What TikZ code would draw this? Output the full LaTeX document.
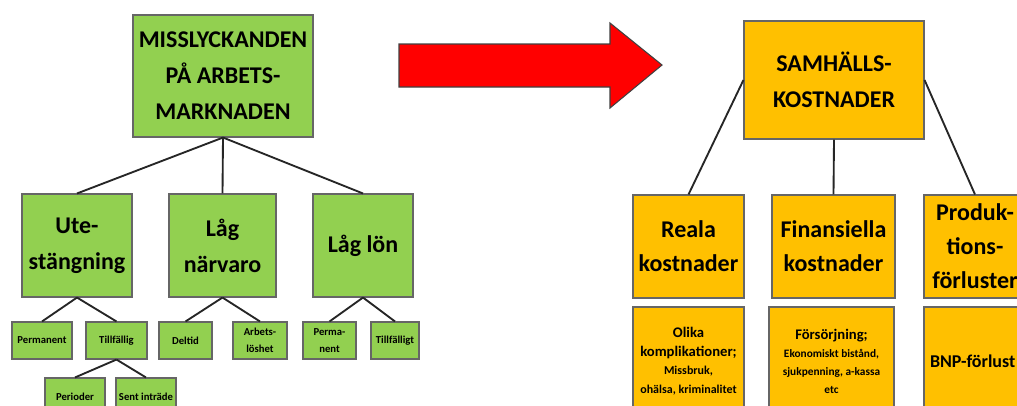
\documentclass[tikz,border=0pt]{standalone}
\usepackage{fontspec}
\setmainfont{Carlito}
\definecolor{lgreen}{HTML}{92D050}
\definecolor{gold}{HTML}{FFC000}

\begin{document}
\begin{tikzpicture}[x=0.75pt,y=-0.75pt,
	box/.style={draw=black!60,line width=0.8pt,inner sep=2pt,align=center},
	gbox/.style={box,fill=lgreen},
	ybox/.style={box,fill=gold},
	big/.style={font=\fontsize{18}{27}\selectfont\bfseries},
	mid/.style={font=\fontsize{18}{25.5}\selectfont\bfseries},
	tiny/.style={font=\fontsize{8}{12.5}\selectfont\bfseries},
	link/.style={draw=black!85,line width=1.4pt}]
	\useasboundingbox (0,0) rectangle (1017,405);
	
	% vänster träd
	\node[gbox,big,minimum width=135pt,minimum height=91.5pt] (miss) at (223,76) {MISSLYCKANDEN\\PÅ ARBETS-\\MARKNADEN};
	
	\node[gbox,big,minimum width=82.5pt,minimum height=77.25pt] (ute) at (77,245.5) {Ute-\\stängning};
	\node[gbox,big,minimum width=80.25pt,minimum height=77.25pt] (narv) at (222.5,245.5) {Låg\\närvaro};
	\node[gbox,big,minimum width=75pt,minimum height=77.25pt] (lon) at (363,245.5) {Låg lön};
	
	\node[gbox,tiny,minimum width=45pt,minimum height=27.75pt] (perm) at (42,340.5) {Permanent};
	\node[gbox,tiny,minimum width=45.75pt,minimum height=27.75pt] (tillf) at (116.5,340.5) {Tillfällig};
	\node[gbox,tiny,minimum width=39.75pt,minimum height=27.75pt] (deltid) at (185.5,340.5) {Deltid};
	\node[gbox,tiny,minimum width=40.5pt,minimum height=27.75pt] (arbl) at (260,340.5) {Arbets-\\löshet};
	\node[gbox,tiny,minimum width=39.75pt,minimum height=27.75pt] (perm2) at (329.5,340.5) {Perma-\\nent};
	\node[gbox,tiny,minimum width=36pt,minimum height=27.75pt] (tillf2) at (395,340.5) {Tillfälligt};
	
	\node[gbox,tiny,minimum width=45pt,minimum height=27.75pt] (period) at (75,396.5) {Perioder};
	\node[gbox,tiny,minimum width=45pt,minimum height=27.75pt] (sent) at (146,396.5) {Sent inträde};
	
	\draw[link] (miss.south)--(ute.north);
	\draw[link] (miss.south)--(narv.north);
	\draw[link] (miss.south)--(lon.north);
	\draw[link] (ute.south)--(perm.north);
	\draw[link] (ute.south)--(tillf.north);
	\draw[link] (narv.south)--(deltid.north);
	\draw[link] (narv.south)--(arbl.north);
	\draw[link] (lon.south)--(perm2.north);
	\draw[link] (lon.south)--(tillf2.north);
	\draw[link] (tillf.south)--(period.north);
	\draw[link] (tillf.south)--(sent.north);
	
	% pilen
	\draw[fill=red,draw=black!75,line width=0.8pt] (399,44)--(610,44)--(610,23)--(662,65)--(610,108)--(610,87)--(399,87)--cycle;
	
	% höger träd
	\node[ybox,big,minimum width=135pt,minimum height=88.5pt] (samh) at (834,80) {SAMHÄLLS-\\KOSTNADER};
	
	\node[ybox,mid,minimum width=83.25pt,minimum height=77.25pt] (reala) at (688.5,246.5) {Reala\\kostnader};
	\node[ybox,mid,minimum width=92.25pt,minimum height=77.25pt] (fin) at (833.5,246.5) {Finansiella\\kostnader};
	\node[ybox,mid,minimum width=76.5pt,minimum height=77.25pt] (prod) at (975,246.5) {Produk-\\tions-\\förluster};
	
	\node[ybox,font=\fontsize{9}{14}\selectfont\bfseries,minimum width=83.25pt,minimum height=81pt] (olika) at (688.5,361)
	{{\fontsize{11}{14}\selectfont Olika}\\{\fontsize{11}{14}\selectfont komplikationer;}\\Missbruk,\\ohälsa, kriminalitet};
	\node[ybox,font=\fontsize{8.5}{13.5}\selectfont\bfseries,minimum width=93.75pt,minimum height=81pt] (fors) at (831.5,361)
	{{\fontsize{11}{13.5}\selectfont Försörjning;}\\Ekonomiskt bistånd,\\sjukpenning, a-kassa\\etc};
	\node[ybox,font=\fontsize{13.5}{16}\selectfont\bfseries,align=left,inner xsep=4.5pt,text width=67.5pt,minimum height=81pt] (bnp) at (975,361) {BNP-förlust};
	
	\draw[link] (samh.west)--(reala.north);
	\draw[link] (samh.south)--(fin.north);
	\draw[link] (samh.east)--(prod.north);
\end{tikzpicture}
\end{document}
